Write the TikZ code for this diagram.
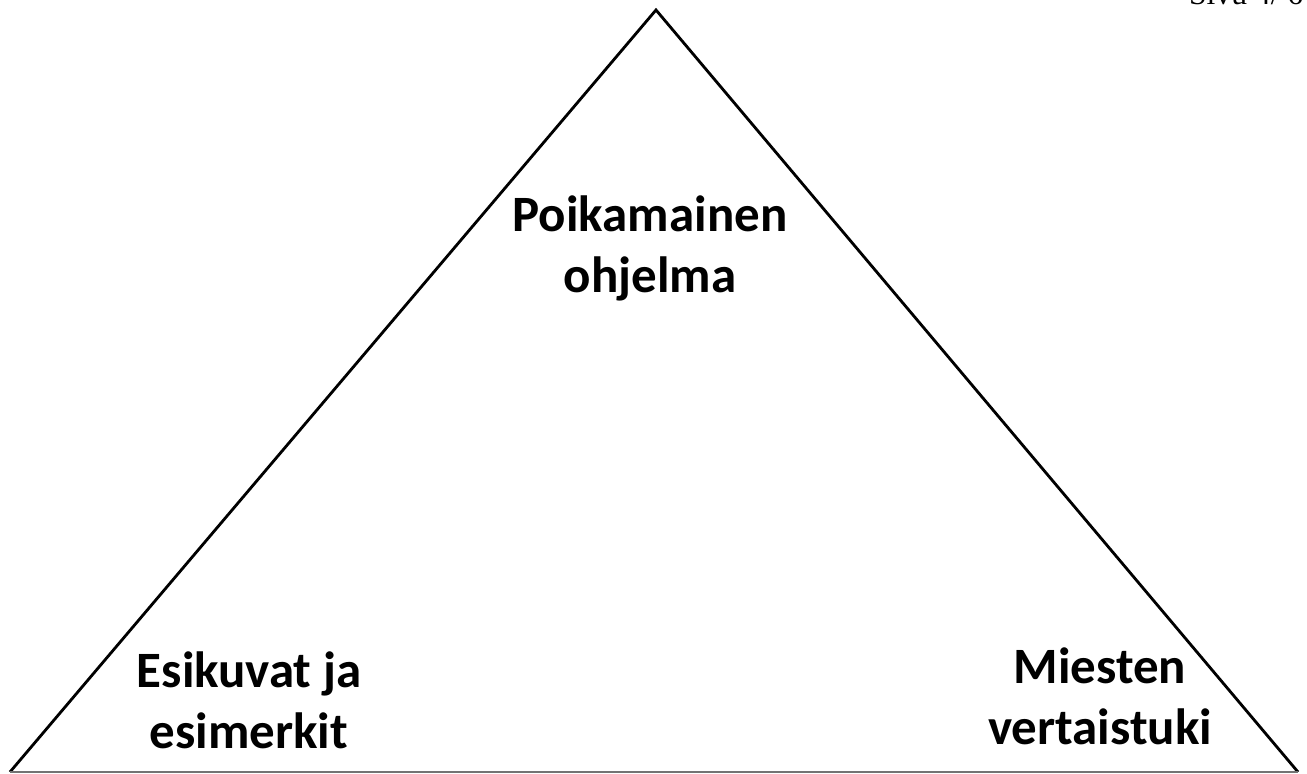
\documentclass[tikz,border=0pt]{standalone}
\usepackage{fontspec}
\setmainfont{Carlito}
\newfontfamily\headfont{Liberation Serif}
\usepackage{tikz}
\usetikzlibrary{calc}

\begin{document}
\begin{tikzpicture}[x=1cm,y=1cm]
      \tikzstyle{side}  = [draw=black, line width=0.8pt, line join=miter]
      \tikzstyle{base}  = [draw=black!55, line width=0.5pt]
      \tikzstyle{label} = [
        align=center,
        anchor=base,
        inner sep=0pt,
        font=\fontsize{14.5}{17.5}\selectfont\bfseries,
      ]
      \useasboundingbox (0,0) rectangle (13.07,7.74);

      \coordinate (top)   at (6.56,7.64);
      \coordinate (left)  at (0.10,0.02);
      \coordinate (right) at (12.98,0.02);

      \draw[side] (left)--(top)--(right);
      \draw[base] (left)--(right);

      % anchor=base sits on the last line
      \node[label] (prog) at (6.50,4.81) {Poikamainen\\ohjelma};
      \node[label] (role) at (2.49,0.25) {Esikuvat ja\\esimerkit};
      \node[label] (peer) at (11.00,0.29) {Miesten\\vertaistuki};

      \node[anchor=base east, inner sep=0pt, font=\headfont\fontsize{9}{10}\selectfont] (page) at (13.04,7.69) {Sivu 4/ 6};
    \end{tikzpicture}
\end{document}
